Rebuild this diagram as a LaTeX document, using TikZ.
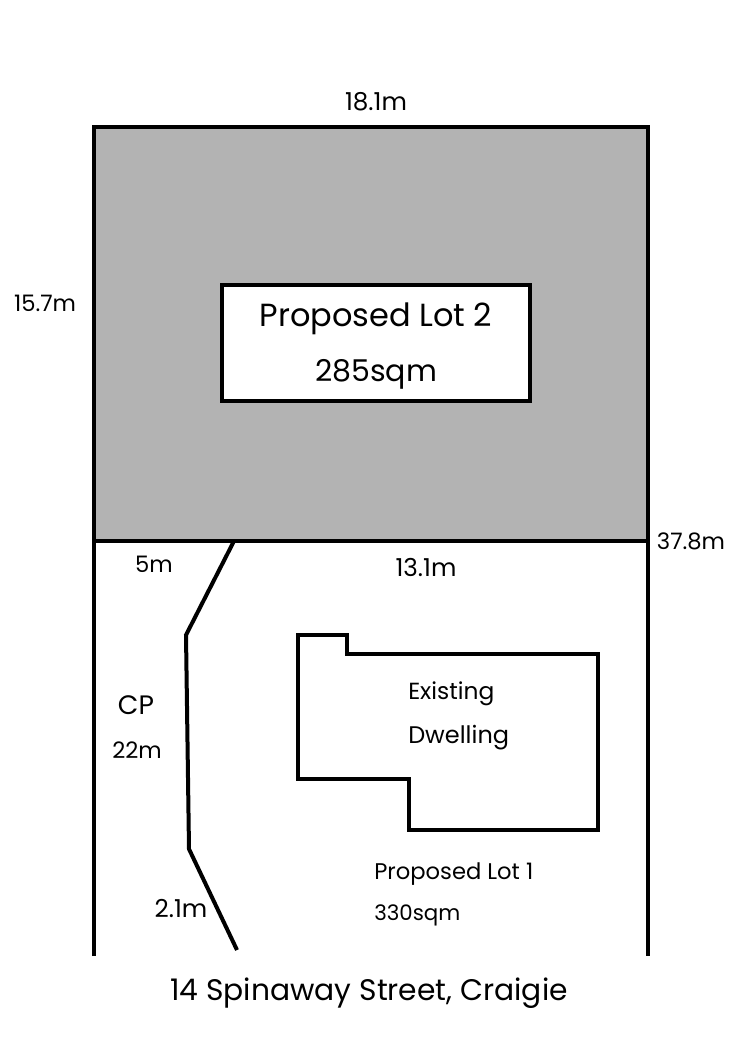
\documentclass[tikz,border=0pt]{standalone}
\usepackage{fontspec}
\setmainfont{Poppins}
\definecolor{lotgray}{HTML}{B3B3B3}
\tikzset{
  line/.style={line width=3pt,line join=miter},
  label/.style={inner sep=0pt,font=\fontsize{17}{19}\selectfont},
  widelabel/.style={inner sep=0pt,font=\fontsize{18.5}{21}\selectfont},
}
\begin{document}
\begin{tikzpicture}[x=0.75pt,y=-0.75pt]
    \useasboundingbox (0,0) rectangle (750,1061);

    % lot corners
    \path (94,127) coordinate (P1)
      -- (648,127) coordinate (P2)
      -- (648,541) coordinate (P3)
      -- (94,541) coordinate (P4);
    \path (94,956) coordinate (B1);
    \path (648,956) coordinate (B2);

    % proposed lot 2
    \fill[lotgray] (P1) rectangle (P3);
    \draw[line] (B1) -- (P4) -- (P1) -- (P2) -- (P3) -- (B2);
    \draw[line,line width=2.5pt] (P4) -- (P3);
    \node[draw,line width=2.6pt,fill=white,minimum width=231pt,minimum height=87pt,inner sep=0pt] (lot2) at (376,343) {};
    \node[label,font=\fontsize{24}{27}\selectfont] (lot2name) at (376,319) {Proposed Lot 2};
    \node[label,font=\fontsize{22.5}{25}\selectfont] (lot2area) at (376,374) {285sqm};

    % driveway
    \draw[line] (234,541) -- (186,635) -- (189,849) -- (237,950);

    % dwelling
    \draw[line] (298,635) -- (347,635) -- (347,654) -- (598,654) -- (598,830)
      -- (409,830) -- (409,779) -- (298,779) -- cycle;

    % labels
    \node[widelabel] (top) at (376,102) {18.1m};
    \node[label] (left) at (45,303) {15.7m};
    \node[label] (right) at (691,541) {37.8m};
    \node[label] (five) at (154,564) {5m};
    \node[widelabel] (mid) at (426,567) {13.1m};
    \node[label,font=\fontsize{20}{22}\selectfont] (cp) at (136,705) {CP};
    \node[label] (cplen) at (137,750) {22m};
    \node[widelabel] (splay) at (181,908) {2.1m};
    \node[label,font=\fontsize{17.5}{20}\selectfont,anchor=west] (exist) at (408,694) {Existing};
    \node[label,font=\fontsize{18}{20}\selectfont,anchor=west] (dwell) at (408,738) {Dwelling};
    \node[label,anchor=west] (lot1name) at (374,874) {Proposed Lot 1};
    \node[label,font=\fontsize{16}{18}\selectfont,anchor=west] (lot1area) at (374,915) {330sqm};
    \node[label,font=\fontsize{22.3}{25}\selectfont] (address) at (369,993) {14 Spinaway Street, Craigie};
\end{tikzpicture}
\end{document}
